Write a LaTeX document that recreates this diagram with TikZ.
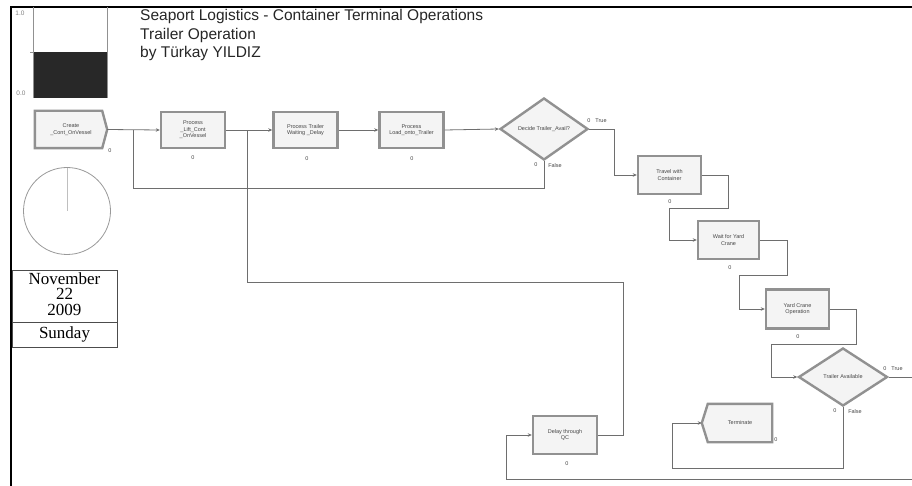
\documentclass[tikz,border=0pt]{standalone}
\usepackage{fontspec}
\setmainfont{Liberation Sans}
\newfontfamily\datefont{Liberation Serif}
\usetikzlibrary{arrows.meta,shapes.geometric,calc}
\definecolor{boxline}{RGB}{145,145,145}
\definecolor{boxfill}{RGB}{244,244,244}
\definecolor{connc}{RGB}{110,110,110}
\definecolor{txt}{RGB}{70,70,70}
\definecolor{bardark}{RGB}{40,40,40}
\pgfdeclarelayer{bg}
\pgfsetlayers{bg,main}
\begin{document}
\begin{tikzpicture}[x=1pt,y=-1pt,
  boxtext/.style={font=\fontsize{5.5}{6.5}\selectfont, text=txt, align=center},
  proc/.style={boxtext, draw=boxline, line width=2.4pt, fill=boxfill, rectangle, inner sep=1pt},
  shell/.style={boxtext, draw=none, rectangle, inner sep=1pt},
  shellshape/.style={draw=boxline, line width=2.4pt, fill=boxfill, line join=miter},
  dec/.style={boxtext, diamond, draw=boxline, line width=2.4pt, fill=boxfill, inner sep=0pt},
  cnt/.style={font=\fontsize{5.5}{6.5}\selectfont, text=txt, inner sep=0pt},
  conn/.style={draw=connc, line width=0.8pt, -{Stealth[length=4pt,width=3.5pt]}},
  connj/.style={draw=connc, line width=0.8pt},
  datetxt/.style={font=\datefont\fontsize{17}{15.75}\selectfont, align=center, inner sep=0pt}
]
\useasboundingbox (0,0) rectangle (912,486);
\clip (0,0) rectangle (912,486);

% frame
\draw[line width=2pt, black] (912,7) -- (11,7) -- (11,490);

% level bar
\fill[bardark] (33,52) rectangle (107,98);
\draw[boxline, line width=0.8pt] (33,7) -- (33,98) (107,7) -- (107,98) (30,52) -- (33,52);
\node[cnt, text=gray, font=\fontsize{6.5}{7}\selectfont] (lvtop) at (20,13) {1.0};
\node[cnt, text=gray, font=\fontsize{6.5}{7}\selectfont] (lvbot) at (21,93) {0.0};

% title
\node[anchor=base west, inner sep=0pt, font=\fontsize{15.5}{18}\selectfont, text=black!85] (t1) at (140,21) {Seaport Logistics - Container Terminal Operations};
\node[anchor=base west, inner sep=0pt, font=\fontsize{15.5}{18}\selectfont, text=black!85] (t2) at (140,39.5) {Trailer Operation};
\node[anchor=base west, inner sep=0pt, font=\fontsize{15.5}{18}\selectfont, text=black!85] (t3) at (140,57.5) {by Türkay YILDIZ};

% clock
\draw[gray!80, line width=0.8pt] (67,211) circle[radius=43.5];
\node[inner sep=0pt] (clockc) at (67,211) {};
\draw[gray!50, line width=0.8pt] (clockc.center) -- (67,168);

% date box
\draw[black!70, line width=0.8pt] (12,270) rectangle (117,347) (12,322) -- (117,322);
\node[datetxt, anchor=base] (date) at (64.5,315.5) {November\\22\\2009};
\node[datetxt, anchor=base] (wday) at (64.5,338) {Sunday};

% modules
\node[shell, minimum width=72pt, minimum height=37pt] (create) at (71,129.5) {Create\\\_Cont\_OnVessel};
\begin{pgfonlayer}{bg}
\draw[shellshape] (create.north west) -- ([xshift=-5pt]create.north east) -- (create.east) -- ([xshift=-5pt]create.south east) -- (create.south west) -- cycle;
\end{pgfonlayer}
\node[proc, minimum width=64pt, minimum height=36pt] (lift) at (193,130) {Process\\\_Lift\_Cont\\\_OnVessel};
\node[proc, minimum width=64pt, minimum height=36pt] (twait) at (305.5,130) {Process Trailer\\Waiting \_Delay};
\node[proc, minimum width=64pt, minimum height=36pt] (load) at (411.5,130) {Process\\Load\_onto\_Trailer};
\node[dec, minimum width=88pt, minimum height=62pt] (dec1) at (544,129) {Decide Trailer\_Avail?};
\node[proc, minimum width=63pt, minimum height=38pt] (travel) at (669.5,175) {Travel with\\Container};
\node[proc, minimum width=61pt, minimum height=38pt] (waityc) at (728.5,240) {Wait for Yard\\Crane};
\node[proc, minimum width=63pt, minimum height=39pt] (yard) at (797.5,309) {Yard Crane\\Operation};
\node[dec, minimum width=89pt, minimum height=58pt] (dec2) at (843,377) {Trailer Available};
\node[shell, minimum width=70pt, minimum height=38pt] (term) at (737,423) {\hspace*{6pt}Terminate};
\begin{pgfonlayer}{bg}
\draw[shellshape] (term.west) -- ([xshift=6pt]term.north west) -- (term.north east) -- (term.south east) -- ([xshift=6pt]term.south west) -- cycle;
\end{pgfonlayer}
\node[proc, minimum width=64pt, minimum height=38pt] (delay) at (565,435) {Delay through\\QC};

% counters
\node[cnt] (c0) at (110,151) {0};
\node[cnt] (c1) at (193,158) {0};
\node[cnt] (c2) at (307,159) {0};
\node[cnt] (c3) at (412,159) {0};
\node[cnt] (c4) at (670,202) {0};
\node[cnt] (c5) at (730,268) {0};
\node[cnt] (c6) at (798,337) {0};
\node[cnt] (c7) at (567,464) {0};
\node[cnt] (c8) at (776,440) {0};
\node[cnt] (d1t0) at (589,121) {0};
\node[cnt] (d1t) at (601,121) {True};
\node[cnt] (d1f0) at (536,165) {0};
\node[cnt] (d1f) at (555,166) {False};
\node[cnt] (d2t0) at (885,369) {0};
\node[cnt] (d2t) at (897,369) {True};
\node[cnt] (d2f0) at (835,411) {0};
\node[cnt] (d2f) at (855,412) {False};

% junctions
\coordinate (j1) at (133,130);
\coordinate (j2) at (247,130);
\coordinate (r1) at (623,282);
\coordinate (r2) at (920,479);

% connectors
\draw[conn] (create.east) -- (lift.west);
\draw[conn] (lift.east) -- (twait.west);
\draw[conn] (twait.east) -- (load.west);
\draw[conn] (load.east) -- (dec1.west);
\draw[conn] (dec1.east) -- ++(25,0) |- (travel.west);
\draw[connj] (dec1.south) -- ++(0,27) -| (j1);
\draw[conn] (travel.east) -- ++(26,0) -- ++(0,33) -| ($(waityc.west)+(-27,0)$) -- (waityc.west);
\draw[conn] (waityc.east) -- ++(27,0) -- ++(0,35) -| ($(yard.west)+(-25,0)$) -- (yard.west);
\draw[conn] (yard.east) -- ++(26,0) -- ++(0,35) -| ($(dec2.west)+(-26,0)$) -- (dec2.west);
\draw[conn] (dec2.east) -| (r2) -| ($(delay.west)+(-25,0)$) -- (delay.west);
\draw[conn] (dec2.south) -- ++(0,61) -| ($(term.west)+(-29,0)$) -- (term.west);
\draw[connj] (delay.east) -| (r1) -| (j2);
\end{tikzpicture}
\end{document}
